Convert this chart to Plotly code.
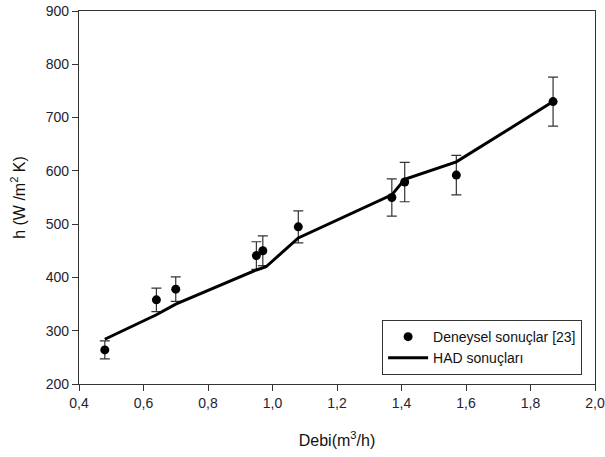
import plotly.graph_objects as go

# Experimental data (Deneysel sonuçlar [23])
exp_x = [0.48, 0.64, 0.70, 0.95, 0.97, 1.08, 1.37, 1.41, 1.57, 1.87]
exp_y = [264, 358, 378, 441, 450, 495, 550, 579, 592, 730]
exp_err = [17, 22, 23, 26, 28, 30, 35, 37, 37, 46]

# CFD results (HAD sonuçları)
had_x = [0.48, 0.64, 0.70, 0.95, 0.98, 1.08, 1.37, 1.41, 1.57, 1.87]
had_y = [284, 330, 350, 414, 420, 474, 555, 584, 617, 730]

x_ticks = [0.4, 0.6, 0.8, 1.0, 1.2, 1.4, 1.6, 1.8, 2.0]
x_ticklabels = ["0,4", "0,6", "0,8", "1,0", "1,2", "1,4", "1,6", "1,8", "2,0"]
y_ticks = [200, 300, 400, 500, 600, 700, 800, 900]

FONT = "Arial, Liberation Sans, sans-serif"

fig = go.Figure()
fig.add_trace(go.Scatter(
    x=exp_x, y=exp_y, mode="markers", name="Deneysel sonuçlar [23]",
    marker=dict(color="black", size=9),
    error_y=dict(type="data", array=exp_err, visible=True, color="#333333",
                 thickness=1.2, width=5),
))
fig.add_trace(go.Scatter(
    x=had_x, y=had_y, mode="lines", name="HAD sonuçları",
    line=dict(color="black", width=3),
))

axis_common = dict(showline=True, linecolor="#333333", linewidth=1.2, mirror=True,
                   ticks="outside", ticklen=6, tickcolor="#333333", showgrid=False,
                   zeroline=False, automargin=False,
                   tickfont=dict(family=FONT, size=14, color="#222233"))

fig.update_layout(
    width=605, height=457,
    margin=dict(l=79, r=10, t=11, b=73, autoexpand=False),
    paper_bgcolor="white", plot_bgcolor="white",
    font=dict(family=FONT, color="#111111"),
    xaxis=dict(range=[0.4, 2.0], tickvals=x_ticks, ticktext=x_ticklabels,
               title=dict(text="Debi(m<sup>3</sup>/h)", font=dict(size=16), standoff=24),
               **axis_common),
    yaxis=dict(range=[200, 900], tickvals=y_ticks,
               title=dict(text="h (W /m<sup>2</sup> K)", font=dict(size=16), standoff=16),
               **axis_common),
    legend=dict(x=0.587, y=0.172, xanchor="left", yanchor="top",
                bordercolor="#333333", borderwidth=1.2, bgcolor="white",
                font=dict(size=14, color="#111111"), itemwidth=40,
                tracegroupgap=0),
    showlegend=True,
)

fig.write_html("out.html", config={"displayModeBar": False},
               post_script="document.body.style.margin='0px';")
